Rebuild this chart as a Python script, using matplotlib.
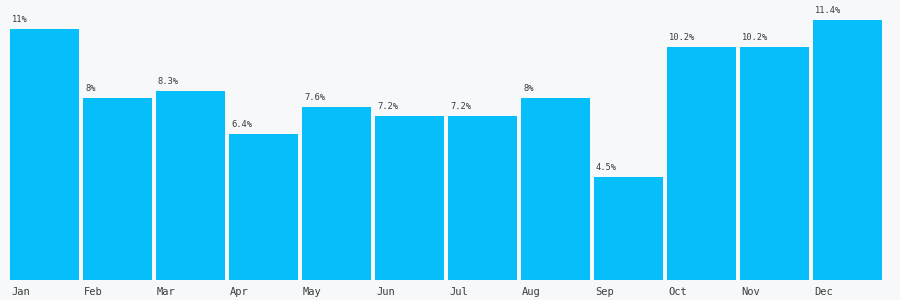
import matplotlib
matplotlib.use("Agg")
import matplotlib.pyplot as plt

months = ["Jan", "Feb", "Mar", "Apr", "May", "Jun",
          "Jul", "Aug", "Sep", "Oct", "Nov", "Dec"]
values = [11, 8, 8.3, 6.4, 7.6, 7.2, 7.2, 8, 4.5, 10.2, 10.2, 11.4]

W, H = 900, 300
bg = "#f7f8fa"
bar_color = "#05befa"
text_color = "#3c3c3c"

fig = plt.figure(figsize=(W / 100, H / 100), dpi=100)
fig.patch.set_facecolor(bg)
# plot area: x 10..886 px, y 20..280 px (top = max value)
ax = fig.add_axes([10 / W, 20 / H, 876 / W, 260 / H])
ax.set_facecolor(bg)

x = list(range(len(months)))
ax.bar(x, values, width=69 / 73, align="edge", color=bar_color, linewidth=0)
ax.set_xlim(0, len(months))
ax.set_ylim(0, max(values))

for i, v in enumerate(values):
    ax.annotate(f"{v:g}%", (i, v), xytext=(2, 5), textcoords="offset pixels",
                ha="left", va="bottom", fontsize=6.3, family="DejaVu Sans Mono",
                color=text_color, annotation_clip=False)
    ax.annotate(months[i], (i, 0), xytext=(1, -7), textcoords="offset pixels",
                ha="left", va="top", fontsize=7.5, family="DejaVu Sans Mono",
                color=text_color, annotation_clip=False)

ax.axis("off")
fig.savefig("out.png", dpi=100, facecolor=bg)
